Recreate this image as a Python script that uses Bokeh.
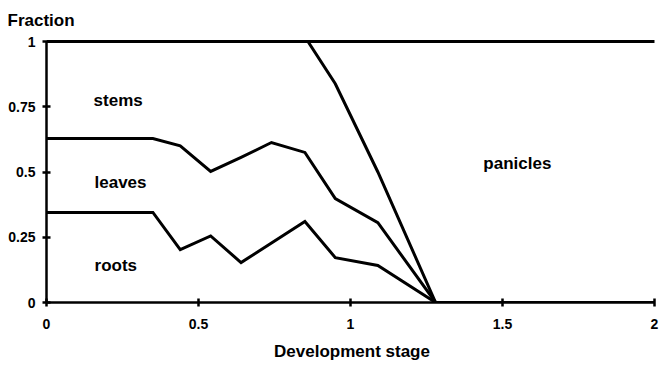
from bokeh.plotting import figure
from bokeh.models import Range1d, FixedTicker, Label
from bokeh.embed import file_html
from bokeh.resources import INLINE

# Development stage (x) and cumulative partitioning fractions (y)
roots_x = [0.0, 0.35, 0.44, 0.54, 0.64, 0.85, 0.95, 1.09, 1.28, 2.0]
roots_y = [0.345, 0.345, 0.203, 0.255, 0.153, 0.31, 0.172, 0.142, 0.0, 0.0]

leaves_x = [0.0, 0.35, 0.44, 0.54, 0.64, 0.74, 0.85, 0.95, 1.09, 1.28]
leaves_y = [0.628, 0.628, 0.60, 0.502, 0.556, 0.613, 0.575, 0.398, 0.306, 0.0]

stems_x = [0.0, 0.86, 0.95, 1.09, 1.28]
stems_y = [1.0, 1.0, 0.838, 0.50, 0.0]

panicles_x = [0.86, 2.0]
panicles_y = [1.0, 1.0]

x_ticks = [0, 0.5, 1, 1.5, 2]
x_tick_labels = ["0", "0.5", "1", "1.5", "2"]
y_ticks = [0, 0.25, 0.5, 0.75, 1]
y_tick_labels = ["0", "0.25", "0.5", "0.75", "1"]

region_names = ["stems", "leaves", "roots", "panicles"]
region_x = [0.155, 0.158, 0.158, 1.437]
region_y = [0.774, 0.46, 0.142, 0.533]

FONT = "Liberation Sans"

p = figure(width=659, height=367, output_backend="svg", toolbar_location=None,
           x_range=Range1d(0, 2.0099), y_range=Range1d(0, 1.0115),
           title="Fraction")
p.min_border_left = 46
p.min_border_right = 2
p.min_border_top = 38
p.min_border_bottom = 65
p.outline_line_color = None
p.background_fill_color = "white"
p.border_fill_color = "white"
p.xgrid.visible = False
p.ygrid.visible = False

# y-axis caption sits in the title slot, flush with the left edge
p.title.align = "left"
p.title.offset = -39
p.title.standoff = 17
p.title.text_font = FONT
p.title.text_font_style = "bold"
p.title.text_font_size = "17px"
p.title.text_color = "black"

for xs, ys in [(roots_x, roots_y), (leaves_x, leaves_y),
               (stems_x, stems_y), (panicles_x, panicles_y)]:
    p.line(xs, ys, line_color="black", line_width=3, line_join="miter")

for ax, ticks, labels in [(p.xaxis[0], x_ticks, x_tick_labels),
                          (p.yaxis[0], y_ticks, y_tick_labels)]:
    ax.ticker = FixedTicker(ticks=ticks)
    ax.major_label_overrides = {t: l for t, l in zip(ticks, labels)}
    ax.minor_tick_line_color = None
    ax.axis_line_width = 2.5
    ax.axis_line_color = "black"
    ax.major_tick_line_width = 2.5
    ax.major_tick_line_color = "black"
    ax.major_tick_in = 4
    ax.major_tick_out = 4
    ax.major_label_text_font = FONT
    ax.major_label_text_font_style = "bold"
    ax.major_label_text_font_size = "14px"
    ax.major_label_text_color = "black"
    ax.bounds = (ticks[0], ticks[-1])

p.xaxis.major_label_standoff = 12
p.yaxis.major_label_standoff = 7
p.xaxis.axis_label = "Development stage"
p.xaxis.axis_label_text_font = FONT
p.xaxis.axis_label_text_font_style = "bold"
p.xaxis.axis_label_text_font_size = "17px"
p.xaxis.axis_label_text_color = "black"
p.xaxis.axis_label_standoff = 10

for name, x, y in zip(region_names, region_x, region_y):
    p.add_layout(Label(x=x, y=y, text=name, text_font=FONT, text_font_style="bold",
                       text_font_size="17px", text_color="black",
                       text_align="left", text_baseline="alphabetic"))

open("out.html", "w").write(file_html(p, INLINE))
